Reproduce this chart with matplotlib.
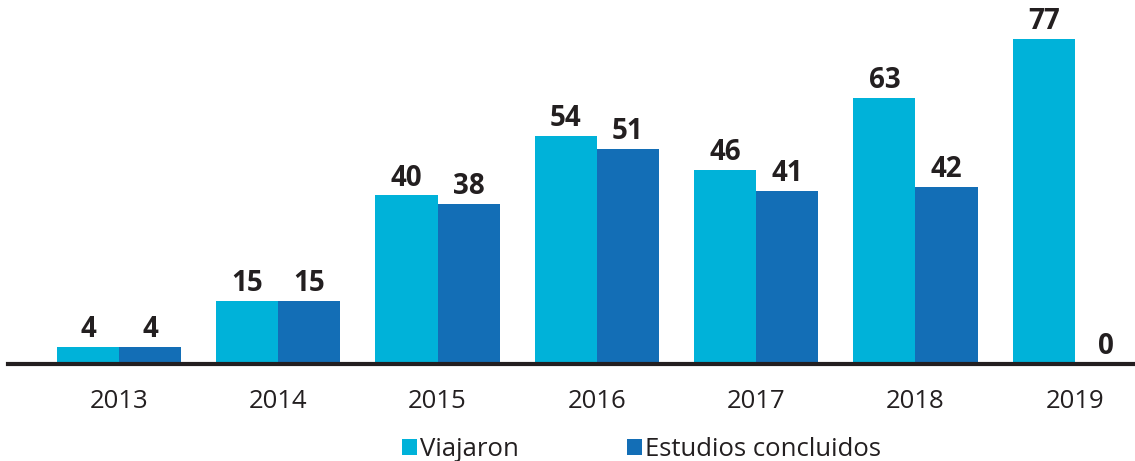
import numpy as np
import matplotlib.pyplot as plt

plt.rcParams['font.family'] = ['Open Sans', 'DejaVu Sans']

years = ['2013', '2014', '2015', '2016', '2017', '2018', '2019']
viajaron = [4, 15, 40, 54, 46, 63, 77]
concluidos = [4, 15, 38, 51, 41, 42, 0]

light = '#00B2D9'
dark = '#136EB6'
txt = '#231F20'

fig = plt.figure(figsize=(11.35, 4.61), dpi=100)
ax = fig.add_axes([8 / 1135, 97 / 461, 1127 / 1135, 364 / 461])

x = np.arange(len(years))
w = 0.39
b1 = ax.bar(x - w / 2, viajaron, w, color=light, label='Viajaron')
b2 = ax.bar(x + w / 2, concluidos, w, color=dark, label='Estudios concluidos')

# value labels above each bar
for bars, vals in [(b1, viajaron), (b2, concluidos)]:
    for rect, v in zip(bars, vals):
        ax.annotate(str(v), (rect.get_x() + rect.get_width() / 2, v),
                    xytext=(0, 2), textcoords='offset points',
                    ha='center', va='bottom', fontsize=20, fontweight='bold', color=txt)

ax.set_xlim(-0.697, 6.378)
ax.set_ylim(0, 86.3)
ax.set_xticks(x)
ax.set_xticklabels(years, fontsize=18.5, color=txt)
ax.tick_params(axis='x', length=0, pad=18)
ax.set_yticks([])
for s in ['top', 'right', 'left']:
    ax.spines[s].set_visible(False)
ax.spines['bottom'].set_linewidth(3)
ax.spines['bottom'].set_color(txt)

fig.legend(handles=[b1, b2], loc='center', bbox_to_anchor=(0.565, 0.025), ncol=2,
           frameon=False, fontsize=18.5, handlelength=0.6, handleheight=0.6,
           handletextpad=0.1, columnspacing=4.2, labelcolor=txt)

fig.savefig('out.png', dpi=100)
